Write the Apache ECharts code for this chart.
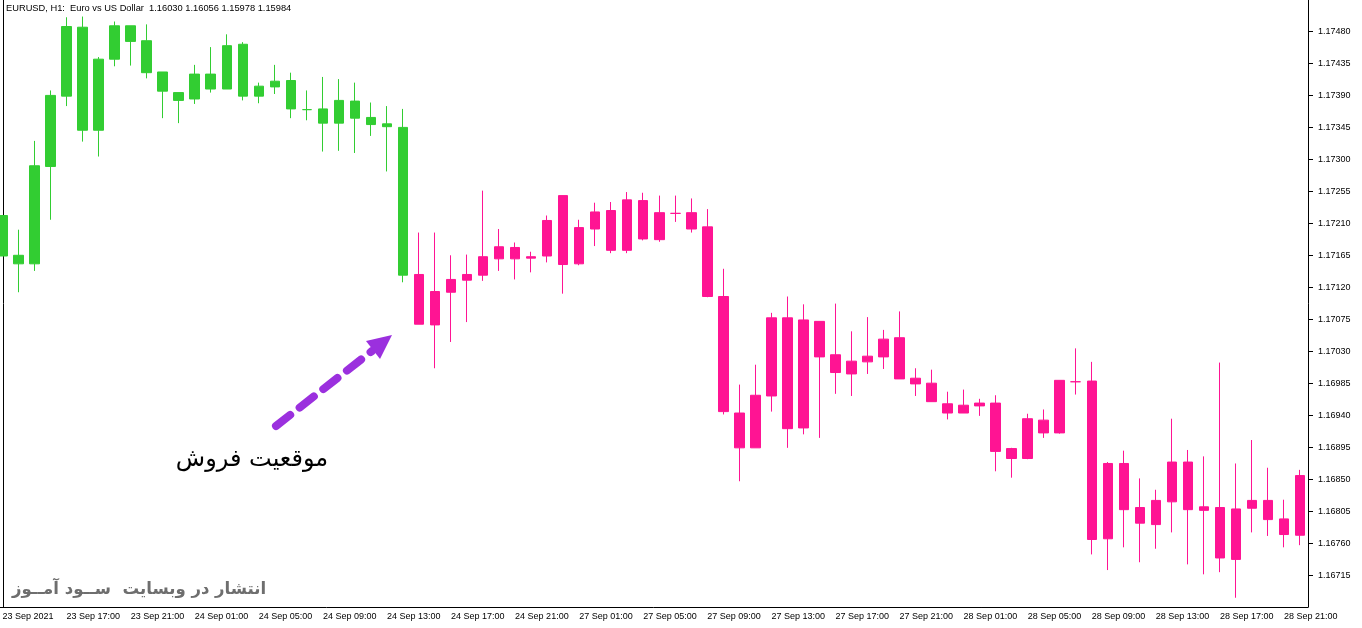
<!DOCTYPE html>
<html>
<head>
<meta charset="utf-8">
<script src="https://cdn.jsdelivr.net/npm/echarts@6/dist/echarts.min.js"></script>
<style>
  html, body { margin: 0; padding: 0; background: #fff; }
  #chart { width: 1362px; height: 628px; }
</style>
</head>
<body>
<div id="chart"></div>
<script>
// EURUSD H1 - hourly bars, 23 Sep 13:00 .. 28 Sep 22:00
const days = [['23 Sep', 13, 23], ['24 Sep', 0, 23], ['27 Sep', 0, 23], ['28 Sep', 0, 22]];
const firstLabel = '23 Sep 2021';

const opens = [
  1.17221, 1.17165, 1.17153, 1.17290, 1.17389, 1.17486, 1.17341, 1.17441, 1.17488, 1.17467,
  1.17423, 1.17394, 1.17385, 1.17420, 1.17399, 1.17462, 1.17389, 1.17402, 1.17411, 1.17370,
  1.17371, 1.17351, 1.17382, 1.17359, 1.17350, 1.17345, 1.17138, 1.17067, 1.17113, 1.17130,
  1.17137, 1.17160, 1.17176, 1.17161, 1.17164, 1.17249, 1.17153, 1.17202, 1.17228, 1.17172,
  1.17242, 1.17187, 1.17224, 1.17225, 1.17205, 1.17107, 1.16943, 1.16894, 1.16967, 1.17077,
  1.16922, 1.17072, 1.17025, 1.16998, 1.17015, 1.17022, 1.17049, 1.16992, 1.16985, 1.16956,
  1.16943, 1.16953, 1.16957, 1.16893, 1.16879, 1.16933, 1.16915, 1.16987, 1.16988, 1.16766,
  1.16872, 1.16810, 1.16786, 1.16818, 1.16874, 1.16806, 1.16810, 1.16737, 1.16809, 1.16820,
  1.16794, 1.16771
];
const closes = [
  1.17164, 1.17153, 1.17291, 1.17390, 1.17487, 1.17341, 1.17441, 1.17488, 1.17466, 1.17422,
  1.17396, 1.17383, 1.17420, 1.17399, 1.17460, 1.17389, 1.17403, 1.17410, 1.17371, 1.17370,
  1.17351, 1.17383, 1.17358, 1.17349, 1.17346, 1.17137, 1.17068, 1.17114, 1.17131, 1.17138,
  1.17163, 1.17177, 1.17160, 1.17163, 1.17214, 1.17152, 1.17204, 1.17226, 1.17172, 1.17243,
  1.17188, 1.17225, 1.17224, 1.17202, 1.17107, 1.16945, 1.16894, 1.16968, 1.17077, 1.16921,
  1.17074, 1.17022, 1.17000, 1.17016, 1.17023, 1.17047, 1.16991, 1.16984, 1.16959, 1.16943,
  1.16954, 1.16957, 1.16889, 1.16879, 1.16935, 1.16915, 1.16989, 1.16987, 1.16765, 1.16872,
  1.16807, 1.16788, 1.16820, 1.16874, 1.16807, 1.16811, 1.16739, 1.16808, 1.16820, 1.16793,
  1.16772, 1.16855
];
const lows = [
  1.17164, 1.17113, 1.17143, 1.17215, 1.17375, 1.17325, 1.17304, 1.17431, 1.17432, 1.17414,
  1.17358, 1.17351, 1.17378, 1.17394, 1.17399, 1.17383, 1.17379, 1.17392, 1.17358, 1.17355,
  1.17311, 1.17312, 1.17309, 1.17333, 1.17283, 1.17127, 1.17068, 1.17006, 1.17043, 1.17071,
  1.17129, 1.17143, 1.17131, 1.17141, 1.17155, 1.17111, 1.17151, 1.17178, 1.17168, 1.17168,
  1.17186, 1.17184, 1.17212, 1.17197, 1.17106, 1.16941, 1.16847, 1.16894, 1.16945, 1.16894,
  1.16913, 1.16908, 1.16970, 1.16967, 1.16998, 1.17005, 1.16991, 1.16967, 1.16959, 1.16934,
  1.16943, 1.16939, 1.16861, 1.16852, 1.16878, 1.16908, 1.16914, 1.16969, 1.16744, 1.16722,
  1.16754, 1.16733, 1.16752, 1.16775, 1.16730, 1.16716, 1.16719, 1.16683, 1.16775, 1.16770,
  1.16754, 1.16757
];
const highs = [
  1.17221, 1.17201, 1.17326, 1.17397, 1.17500, 1.17501, 1.17444, 1.17494, 1.17488, 1.17490,
  1.17423, 1.17394, 1.17433, 1.17458, 1.17476, 1.17465, 1.17408, 1.17433, 1.17422, 1.17397,
  1.17416, 1.17413, 1.17408, 1.17380, 1.17375, 1.17371, 1.17197, 1.17197, 1.17165, 1.17166,
  1.17256, 1.17202, 1.17183, 1.17170, 1.17221, 1.17249, 1.17215, 1.17239, 1.17240, 1.17254,
  1.17253, 1.17249, 1.17249, 1.17245, 1.17230, 1.17146, 1.16983, 1.17011, 1.17084, 1.17107,
  1.17096, 1.17072, 1.17097, 1.17058, 1.17078, 1.17060, 1.17086, 1.17006, 1.17004, 1.16973,
  1.16976, 1.16963, 1.16968, 1.16894, 1.16942, 1.16948, 1.16989, 1.17034, 1.17015, 1.16874,
  1.16890, 1.16851, 1.16835, 1.16935, 1.16891, 1.16882, 1.17014, 1.16872, 1.16905, 1.16866,
  1.16821, 1.16863
];
// bars before the sell entry are green, after it pink
const sellIndex = 26;

const yMin = 1.16670, yMax = 1.17525, yStep = 0.00045;
const greenColor = '#32cd32';
const pinkColor = '#ff1493';

const categories = [];
days.forEach(d => {
  for (let h = d[1]; h <= d[2]; h++) {
    categories.push(d[0] + ' ' + (h < 10 ? '0' + h : h) + ':00');
  }
});

const candleData = opens.map((o, i) => {
  const c = i < sellIndex ? greenColor : pinkColor;
  return {
    value: [o, closes[i], lows[i], highs[i]],
    itemStyle: { color: c, color0: c, borderColor: c, borderColor0: c }
  };
});

const chart = echarts.init(document.getElementById('chart'));
const axisFont = 'Liberation Sans, Arial, sans-serif';

const option = {
  backgroundColor: '#ffffff',
  animation: false,
  title: {
    text: 'EURUSD, H1:  Euro vs US Dollar  1.16030 1.16056 1.15978 1.15984',
    left: 6, top: 4, padding: 0,
    textStyle: { fontSize: 9.3, fontWeight: 'normal', color: '#000', fontFamily: axisFont }
  },
  grid: { left: -5.5, right: 54, top: -0.5, bottom: 21, outerBoundsMode: 'none', containLabel: false },
  xAxis: {
    type: 'category',
    data: categories,
    boundaryGap: true,
    axisLine: { lineStyle: { color: '#000', width: 1 } },
    axisTick: {
      alignWithLabel: true, length: 4,
      interval: (i) => i % 4 === 0,
      lineStyle: { color: '#000' }
    },
    axisLabel: {
      interval: (i) => i % 4 === 0,
      align: 'left', margin: 5,
      color: '#000', fontSize: 9, fontFamily: axisFont,
      formatter: (v, i) => i === 0 ? firstLabel : v
    },
    splitLine: { show: false }
  },
  yAxis: {
    type: 'value',
    position: 'right',
    min: yMin, max: yMax, interval: yStep,
    axisLine: { show: true, lineStyle: { color: '#000', width: 1 } },
    axisTick: { show: true, length: 5, lineStyle: { color: '#000' } },
    axisLabel: {
      showMinLabel: false, showMaxLabel: false,
      margin: 10, color: '#000', fontSize: 9, fontFamily: axisFont,
      formatter: (v) => v.toFixed(5)
    },
    splitLine: { show: false }
  },
  series: [{
    name: 'EURUSD',
    type: 'candlestick',
    barWidth: 10,
    data: candleData,
    itemStyle: { borderWidth: 1 }
  }],
  graphic: [
    // left frame line
    { type: 'line', shape: { x1: 3.5, y1: 0, x2: 3.5, y2: 607 }, style: { stroke: '#000', lineWidth: 1 } },
    // sell arrow
    {
      type: 'line', z: 100,
      shape: { x1: 276, y1: 426, x2: 372, y2: 351 },
      style: { stroke: '#9b30de', lineWidth: 8, lineDash: [18, 12], lineCap: 'round' }
    },
    {
      type: 'polygon', z: 100,
      shape: { points: [[392, 335], [366, 341], [380, 359]] },
      style: { fill: '#9b30de' }
    },
    {
      type: 'text', z: 100, x: 252, y: 460,
      style: {
        text: 'موقعیت فروش', fill: '#000', align: 'center', verticalAlign: 'middle',
        font: '24px "DejaVu Serif", "DejaVu Sans", serif'
      }
    },
    {
      type: 'text', z: 100, x: 12, y: 590,
      style: {
        text: 'انتشار در وبسایت  ســود آمــوز', fill: '#6e6e6e', align: 'left', verticalAlign: 'middle',
        font: 'bold 16.5px "DejaVu Sans", sans-serif'
      }
    }
  ]
};

chart.setOption(option);
</script>
</body>
</html>
